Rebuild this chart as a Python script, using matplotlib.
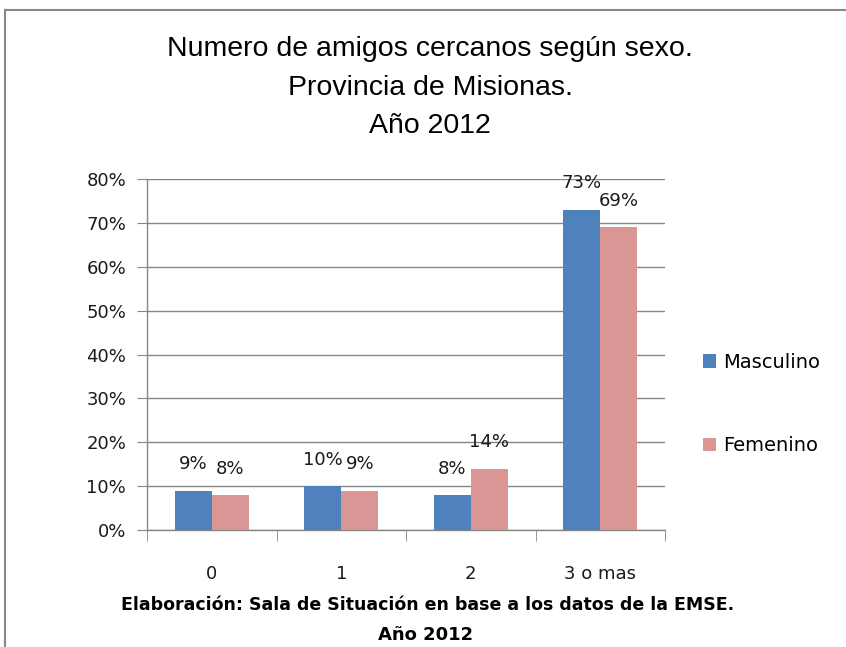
import matplotlib
matplotlib.use("Agg")
import matplotlib.pyplot as plt
from matplotlib.lines import Line2D
import numpy as np

categories = ["0", "1", "2", "3 o mas"]
masculino = [9, 10, 8, 73]
femenino = [8, 9, 14, 69]
series_names = ["Masculino", "Femenino"]
yticks = [0, 10, 20, 30, 40, 50, 60, 70, 80]

blue = "#4F81BD"
pink = "#D99694"
grid_c = "#868686"
txt_font = "DejaVu Sans"
txt_c = "#1a1a1a"
fs = 13

fig = plt.figure(figsize=(8.46, 6.47), dpi=100)
W, H = 846, 647

def fx(px):
    return px / W

def fy(py):
    return 1 - py / H

ax = fig.add_axes([fx(147), fy(530), fx(665) - fx(147), fy(179) - fy(530)])

x = np.arange(len(categories))
bw = 0.285
b1 = ax.bar(x - bw / 2, masculino, bw, color=blue, label=series_names[0], zorder=3)
b2 = ax.bar(x + bw / 2, femenino, bw, color=pink, label=series_names[1], zorder=3)

ax.set_xlim(-0.5, len(categories) - 0.5)
ax.set_ylim(0, 80)
ax.set_yticks(yticks)
ax.set_yticklabels([f"{v}%" for v in yticks], fontsize=fs, family=txt_font, color=txt_c)
ax.yaxis.grid(True, color=grid_c, linewidth=1.0, zorder=0)
ax.tick_params(axis="y", length=7, color=grid_c, pad=8)

ax.set_xticks(x)
ax.set_xticklabels(categories, fontsize=fs, family=txt_font, color=txt_c)
ax.tick_params(axis="x", length=0, pad=25)
ax.set_xticks(np.arange(-0.5, len(categories) + 0.5, 1.0), minor=True)
ax.tick_params(axis="x", which="minor", length=8, color=grid_c, direction="out")

for s in ["top", "right"]:
    ax.spines[s].set_visible(False)
for s in ["left", "bottom"]:
    ax.spines[s].set_color(grid_c)
    ax.spines[s].set_linewidth(1.0)

for bars, vals in [(b1, masculino), (b2, femenino)]:
    for rect, v in zip(bars, vals):
        ax.annotate(f"{v}%", (rect.get_x() + rect.get_width() / 2, v),
                    xytext=(0, 19), textcoords="offset points", ha="center", va="center",
                    fontsize=fs, family=txt_font, color=txt_c)

leg = fig.legend(handles=[b1, b2], labels=series_names, loc="center left",
                 bbox_to_anchor=(fx(693), fy(404)), frameon=False,
                 prop={"family": txt_font, "size": 14}, labelspacing=3.3,
                 handlelength=0.68, handleheight=0.68, handletextpad=0.35, borderpad=0)

title_lines = ["Numero de amigos cercanos según sexo.", "Provincia de Misionas.", "Año 2012"]
for ty, t in zip([49, 88, 126], title_lines):
    fig.text(fx(430), fy(ty), t, ha="center", va="center", fontsize=20.5,
             family="Liberation Sans", color="black")

fig.text(fx(428), fy(605), "Elaboración: Sala de Situación en base a los datos de la EMSE.",
         ha="center", va="center", fontsize=12.5, family=txt_font, weight="bold", color="black")
fig.text(fx(426), fy(635), "Año 2012", ha="center", va="center", fontsize=13,
         family=txt_font, weight="bold", color="black")

fig.add_artist(Line2D([fx(5), 1.0], [fy(10), fy(10)], color="#888888", linewidth=1.5))
fig.add_artist(Line2D([fx(5), fx(5)], [fy(10), 0.0], color="#888888", linewidth=1.5))

fig.savefig("out.png", dpi=100)
